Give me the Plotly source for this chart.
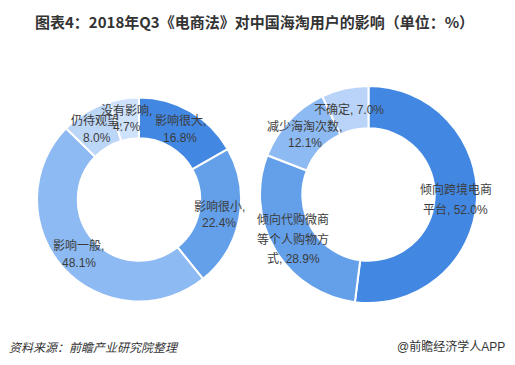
import math
import plotly.graph_objects as go

# ---------------- data ----------------
title_text = "图表4：2018年Q3《电商法》对中国海淘用户的影响（单位：%）"
source_text = "资料来源：前瞻产业研究院整理"
brand_text = "@前瞻经济学人APP"

left_labels = ["影响很大", "影响很小", "影响一般", "仍待观望", "没有影响"]
left_values = [16.8, 22.4, 48.1, 8.0, 4.7]
left_label_lines = [
    ["影响很大,", "16.8%"],
    ["影响很小,", "22.4%"],
    ["影响一般,", "48.1%"],
    ["仍待观望,", "8.0%"],
    ["没有影响,", "4.7%"],
]

right_labels = ["倾向跨境电商平台", "倾向代购微商等个人购物方式", "减少海淘次数", "不确定"]
right_values = [52.0, 28.9, 12.1, 7.0]
right_label_lines = [
    ["倾向跨境电商", "平台, 52.0%"],
    ["倾向代购微商", "等个人购物方", "式, 28.9%"],
    ["减少海淘次数,", "12.1%"],
    ["不确定, 7.0%"],
]

# ---------------- styles ----------------
W, H = 515, 365
left_colors = ["#4288e2", "#64a0ea", "#8dbaf2", "#bcd6f8", "#cfe2fb"]
right_colors = ["#4288e2", "#64a0ea", "#8dbaf2", "#b9d4f8"]
left_gaps = [17, 17, 17, 17, 17]
right_gaps = [20, 20, 17, 17]
TEXT_COLOR = "#3c3c3c"
FONT = "Liberation Sans, Noto Sans CJK SC, sans-serif"

# pie geometry in pixels (center x, center y, outer radius, hole fraction)
LEFT_GEOM = (139.0, 199.5, 102.0, 0.6)
RIGHT_GEOM = (368.5, 194.5, 108.5, 0.61)


def domain(geom):
    cx, cy, r, _ = geom
    return dict(x=[(cx - r) / W, (cx + r) / W], y=[1 - (cy + r) / H, 1 - (cy - r) / H])


fig = go.Figure()


def add_donut(labels, values, colors, geom, name):
    fig.add_trace(go.Pie(
        labels=labels, values=values, name=name,
        hole=geom[3], sort=False, direction="clockwise", rotation=0,
        marker=dict(colors=colors, line=dict(color="white", width=2)),
        textinfo="none", hoverinfo="label+value", showlegend=False,
        domain=domain(geom),
    ))


def add_labels(values, lines_list, gaps, geom):
    cx, cy, r, hole = geom
    rm = r * (1 + hole) / 2
    total = sum(values)
    cum = 0.0
    for v, lines, gap in zip(values, lines_list, gaps):
        ang = math.radians(360.0 * (cum + v / 2) / total)
        cum += v
        px = cx + rm * math.sin(ang)
        py = cy - rm * math.cos(ang)
        n = len(lines)
        for i, ln in enumerate(lines):
            ly = py + (i - (n - 1) / 2) * gap
            fig.add_annotation(
                x=px / W, y=1 - ly / H, xref="paper", yref="paper",
                text=ln, showarrow=False, xanchor="center", yanchor="middle",
                font=dict(size=12, color=TEXT_COLOR, family=FONT),
            )


add_donut(left_labels, left_values, left_colors, LEFT_GEOM, "left")
add_donut(right_labels, right_values, right_colors, RIGHT_GEOM, "right")
add_labels(left_values, left_label_lines, left_gaps, LEFT_GEOM)
add_labels(right_values, right_label_lines, right_gaps, RIGHT_GEOM)

# title
fig.add_annotation(
    x=254 / W, y=1 - 22 / H, xref="paper", yref="paper", showarrow=False,
    text="<b>" + title_text + "</b>", xanchor="center", yanchor="middle",
    font=dict(size=15, color="#333333", family="Noto Sans CJK SC, sans-serif"),
)
# footer
fig.add_annotation(
    x=7 / W, y=1 - 346 / H, xref="paper", yref="paper", showarrow=False,
    text=source_text, xanchor="left", yanchor="middle",
    font=dict(size=12, color="#333333", family="Noto Sans CJK SC, sans-serif", style="italic"),
)
fig.add_annotation(
    x=507 / W, y=1 - 346 / H, xref="paper", yref="paper", showarrow=False,
    text=brand_text, xanchor="right", yanchor="middle",
    font=dict(size=12, color="#333333", family=FONT),
)

fig.update_layout(
    width=W, height=H,
    margin=dict(l=0, r=0, t=0, b=0),
    paper_bgcolor="white", plot_bgcolor="white",
)

fig.write_html(
    "out.html",
    config={"displayModeBar": False},
    post_script="document.body.style.margin='0';document.body.style.overflow='hidden';",
)
